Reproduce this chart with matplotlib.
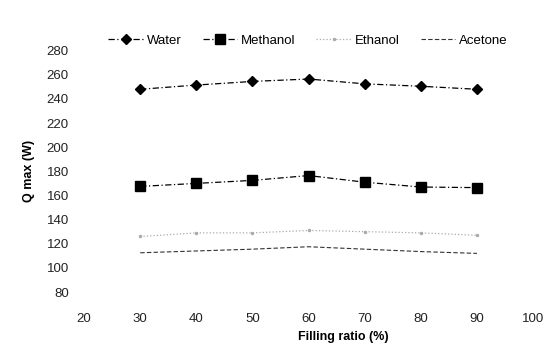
import matplotlib
matplotlib.use("Agg")
import matplotlib.pyplot as plt

# filling ratio (%) and Q max (W) per working fluid
filling_ratio = [30, 40, 50, 60, 70, 80, 90]
water = [248, 251.5, 254.5, 256.5, 252.5, 250.5, 248]
methanol = [167.5, 170, 172.5, 176.5, 171, 167, 166.5]
ethanol = [126, 129, 129, 131, 130, 129, 127]
acetone = [112.5, 114, 115.5, 117.5, 115.5, 113.5, 112]

x_ticks = [20, 30, 40, 50, 60, 70, 80, 90, 100]
y_ticks = [80, 100, 120, 140, 160, 180, 200, 220, 240, 260, 280]

plt.rcParams['font.family'] = ['Liberation Sans', 'DejaVu Sans']

fig = plt.figure(figsize=(5.57, 3.47), dpi=100)
ax = fig.add_axes([0.151, 0.1585, 0.806, 0.6955])

ax.plot(filling_ratio, water, color='black', lw=0.9, ls=(0, (5, 2, 1, 2)),
        marker='D', ms=5, label='Water')
ax.plot(filling_ratio, methanol, color='black', lw=0.9, ls=(0, (5, 2, 1, 2)),
        marker='s', ms=6.5, label='Methanol')
ax.plot(filling_ratio, ethanol, color='#aaaaaa', lw=0.9, ls=':',
        marker='.', ms=3, label='Ethanol')
ax.plot(filling_ratio, acetone, color='#333333', lw=0.8, ls=(0, (4, 2)),
        label='Acetone')

ax.set_xlim(20, 100)
ax.set_ylim(80, 280)
ax.set_xticks(x_ticks)
ax.set_yticks(y_ticks)
for s in ax.spines.values():
    s.set_visible(False)
ax.tick_params(axis='x', length=0, pad=15, labelsize=9.5, labelcolor='#222222')
ax.tick_params(axis='y', length=0, pad=11, labelsize=9.5, labelcolor='#222222')

ax.set_ylabel('Q max (W)', fontsize=9, fontweight='bold', labelpad=8)
fig.text(343 / 557, 1 - 337 / 347, 'Filling ratio (%)', fontsize=9,
         fontweight='bold', ha='center', va='center')

fig.legend(loc='center', bbox_to_anchor=(0.553, 1 - 41 / 347), ncol=4,
           frameon=False, fontsize=9.5, handlelength=2.6, columnspacing=1.6,
           handletextpad=0.3)

fig.savefig('out.png', dpi=100)
